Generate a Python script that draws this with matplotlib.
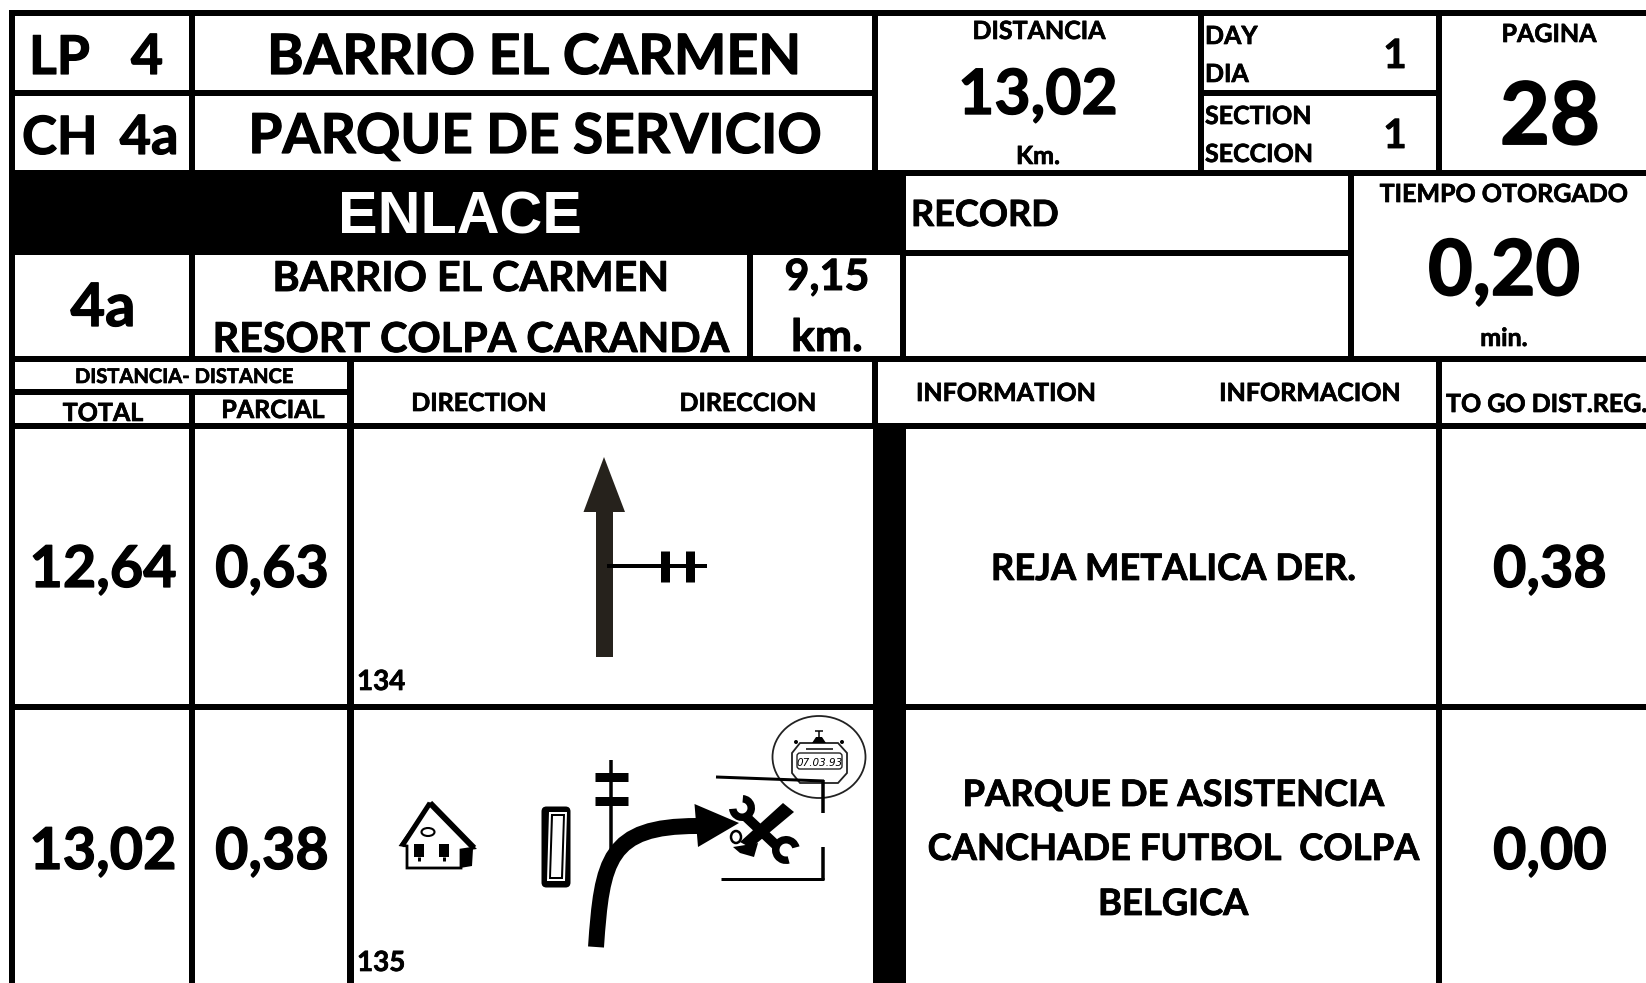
import matplotlib
matplotlib.use("Agg")
import matplotlib.pyplot as plt
import matplotlib.patheffects as pe
from matplotlib.patches import Rectangle, Polygon, Ellipse, Wedge, PathPatch, FancyBboxPatch
from matplotlib.path import Path

W, H = 1646, 983
FONT = "Lato"
INK = "#000000"
ARROW_INK = "#26221c"

# header values
stage_prefix = ["LP", "CH"]
stage_number = ["4", "4a"]
stage_names = ["BARRIO EL CARMEN", "PARQUE DE SERVICIO"]
link_title = "ENLACE"
link_code = "4a"
link_names = ["BARRIO EL CARMEN", "RESORT COLPA CARANDA"]
link_dist = ["9,15", "km."]
total_distance = "13,02"
page = "28"
day = "1"
section = "1"
granted_time = "0,20"

# road book rows
row_ids = ["134", "135"]
row_total = ["12,64", "13,02"]
row_partial = ["0,63", "0,38"]
row_togo = ["0,38", "0,00"]
row_info = [["REJA METALICA DER."],
            ["PARQUE DE ASISTENCIA", "CANCHADE FUTBOL  COLPA", "BELGICA"]]

fig = plt.figure(figsize=(W / 100, H / 100), dpi=100, facecolor="white")
ax = fig.add_axes([0, 0, 1, 1])
ax.set_xlim(0, W)
ax.set_ylim(H, 0)
ax.axis("off")


def hline(y, x0, x1, w=6):
    ax.add_patch(Rectangle((x0, y - w / 2), x1 - x0, w, color=INK, lw=0))


def vline(x, y0, y1, w=6):
    ax.add_patch(Rectangle((x - w / 2, y0), w, y1 - y0, color=INK, lw=0))


def txt(x, y, s, size, ha="center", color=INK, family=FONT, heavy=True, **kw):
    t = ax.text(x, y, s, fontsize=size, ha=ha, va="baseline", color=color,
                family=family, fontweight=kw.pop("weight", "bold"), **kw)
    # the reference font is heavier than Lato Bold
    if heavy:
        t.set_path_effects([pe.withStroke(linewidth=max(0.5, size * 0.022), foreground=color)])


def poly(pts, fc=INK, ec="none", lw=0):
    ax.add_patch(Polygon(pts, closed=True, fc=fc, ec=ec, lw=lw))


def seg(x0, y0, x1, y1, w, color=INK):
    ax.plot([x0, x1], [y0, y1], color=color, lw=w * 0.72, solid_capstyle="butt")


# grid
ax.add_patch(Rectangle((10, 170), 896, 85, color=INK, lw=0))
ax.add_patch(Rectangle((873, 426), 33, H - 426, color=INK, lw=0))
hline(13, 10, W)
hline(93, 10, 875)
hline(93, 1201, 1439)
hline(173, 875, W)
hline(253, 904, 1351)
hline(359, 10, W)
hline(392, 10, 350)
hline(426, 10, W)
hline(707, 10, W)
vline(12.5, 10, H, 6)
vline(192, 13, 170)
vline(875.5, 13, 170)
vline(1201, 13, 170)
vline(1439.5, 13, 170)
vline(192, 255, 359)
vline(750, 255, 359)
vline(903.5, 170, 359)
vline(1351.5, 170, 359)
vline(875.5, 359, 426)
vline(192, 392, H)
vline(350.5, 359, H, 7)
vline(1439.5, 359, H)

# header text
txt(29, 74, stage_prefix[0], 38.5, ha="left")
txt(163, 74, stage_number[0], 40, ha="right")
txt(22, 154, stage_prefix[1], 38, ha="left")
txt(178.5, 154, stage_number[1], 39, ha="right")
txt(534, 74, stage_names[0], 40)
txt(535, 153, stage_names[1], 39.6)
txt(460, 233, link_title, 42.7, color="white", family="Liberation Sans", heavy=False)
txt(103, 326, link_code, 43)
txt(471, 291, link_names[0], 29.7)
txt(471, 352, link_names[1], 29.7)
txt(827, 290, link_dist[0], 31)
txt(827, 351, link_dist[1], 32)

txt(1039, 39, "DISTANCIA", 18)
txt(1038, 114, total_distance, 45)
txt(1038, 164, "Km.", 18)
txt(1205, 44, "DAY", 18, ha="left")
txt(1205, 82, "DIA", 18, ha="left")
txt(1205, 124, "SECTION", 18, ha="left")
txt(1205, 162, "SECCION", 18, ha="left")
txt(1395, 68, day, 29)
txt(1395, 148, section, 29)
txt(1549, 42, "PAGINA", 18)
txt(1550, 144, page, 62)
txt(911, 226, "RECORD", 26, ha="left")
txt(1504, 202, "TIEMPO OTORGADO", 18)
txt(1504, 295, granted_time, 55.5)
txt(1504, 346, "min.", 18)

# column titles
txt(184, 383, "DISTANCIA- DISTANCE", 14.5)
txt(103, 421, "TOTAL", 18)
txt(273, 418, "PARCIAL", 18)
txt(479, 411, "DIRECTION", 18)
txt(748, 411, "DIRECCION", 18)
txt(1006, 401, "INFORMATION", 18)
txt(1310, 401, "INFORMACION", 18)
txt(1446, 412, "TO GO DIST.REG.", 18, ha="left", clip_on=True)

# rows
row_base = [587, 869]
row_id_base = [690, 971]
info_base = [[580], [806, 860, 915]]
for i in range(2):
    txt(103, row_base[i], row_total[i], 41.5)
    txt(272, row_base[i], row_partial[i], 41.5)
    txt(1550, row_base[i], row_togo[i], 41.5)
    txt(357, row_id_base[i], row_ids[i], 20, ha="left")
    for s, y in zip(row_info[i], info_base[i]):
        txt(1173, y, s, 26.2)

# row 134 icon
poly([(604, 457), (625, 512), (613, 512), (613, 657), (596, 657), (596, 512), (583.5, 512)],
     fc=ARROW_INK)
seg(607, 566, 707, 566, 4)
seg(665.5, 551, 665.5, 582, 9)
seg(690.5, 551, 690.5, 582, 9)

# row 135 icon: house
poly([(430, 804), (401, 845), (407, 846), (407, 868), (461, 868), (461, 850), (474, 848)],
     fc="white", ec=INK, lw=2)
seg(430, 803, 402, 846, 5)
seg(430, 803, 474, 848, 6)
poly([(460, 850), (473, 849), (472, 866), (460, 868)])
ax.add_patch(Rectangle((414, 844), 10, 13, color=INK, lw=0))
ax.add_patch(Rectangle((439, 844), 10, 13, color=INK, lw=0))
seg(419, 857, 419, 861, 3)
seg(444, 857, 444, 861, 3)
ax.add_patch(Ellipse((428, 832), 13, 8, fc="white", ec=INK, lw=1.5))

# sign plate
ax.add_patch(FancyBboxPatch((546, 811), 20, 72, boxstyle="round,pad=4.5,rounding_size=5",
                            fc=INK, ec="none"))
poly([(549, 812), (567, 812), (565, 881), (547, 881)], fc="white")
poly([(551, 814), (565, 814), (563, 879), (549, 879)], fc=INK)
poly([(553, 816), (563, 816), (561, 877), (551, 877)], fc="white")

# pole
seg(611, 760, 611, 860, 3.5)
seg(595, 776.5, 628, 776.5, 9)
seg(595, 800.5, 628, 800.5, 9)

# turning arrow
curve = Path([(596, 947), (602, 860), (608, 826), (697, 826)],
             [Path.MOVETO, Path.CURVE4, Path.CURVE4, Path.CURVE4])
ax.add_patch(PathPatch(curve, fc="none", ec=INK, lw=11.5, capstyle="butt"))
poly([(694.5, 804), (739, 823), (698, 847)])

# crossed tools
poly([(783, 803), (794, 812), (751, 848), (740, 842)])
seg(744, 815, 778, 847, 10)
ax.add_patch(Wedge((742, 808), 13, 275, 175, width=7.5, color=INK, lw=0))
ax.add_patch(Wedge((786, 850), 14, 75, 345, width=7.5, color=INK, lw=0))
poly([(733, 847), (758, 843), (754, 857), (740, 853)])
ax.add_patch(Ellipse((736, 837), 10, 12, fc="none", ec=INK, lw=1.8))

# stopwatch
ax.add_patch(Ellipse((819, 757), 93, 82, fc="none", ec="#222222", lw=1.3))
poly([(800, 743), (838, 743), (847, 753), (847, 773), (838, 783), (800, 783), (792, 773), (792, 753)],
     fc="white", ec="#222222", lw=1.3)
seg(806, 749, 833, 749, 1.5)
poly([(812, 743), (826, 743), (822, 737), (816, 737)])
seg(819, 737, 819, 731, 1.5)
seg(815, 731, 823, 731, 1.5)
ax.add_patch(Ellipse((796, 742), 4, 4, color=INK, lw=0))
ax.add_patch(Ellipse((842, 742), 4, 4, color=INK, lw=0))
ax.add_patch(FancyBboxPatch((799, 755), 41, 12, boxstyle="round,pad=2,rounding_size=3",
                            fc="white", ec="#222222", lw=1))
txt(819.5, 766, "07.03.93", 7.5, family="DejaVu Sans", weight="normal", style="italic", heavy=False)

# service park frame
seg(716, 777, 824, 781, 3)
seg(823, 780, 823, 813, 3.5)
seg(823, 847, 823, 880, 3.5)
seg(721, 879, 824, 879, 3)

fig.savefig("out.png", dpi=100, facecolor="white")
